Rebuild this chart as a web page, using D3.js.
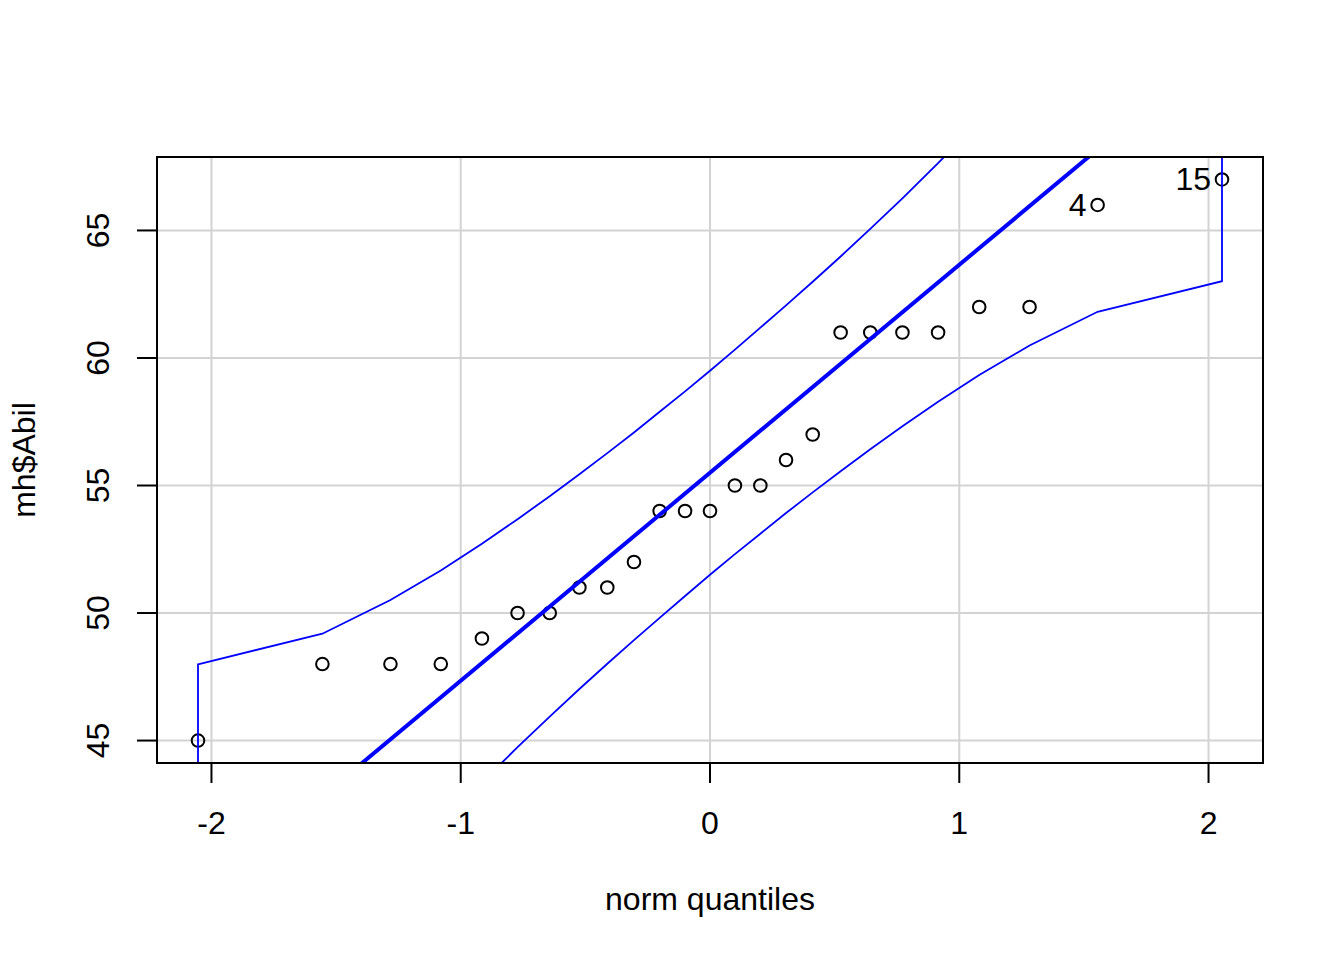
<!DOCTYPE html>
<html>
<head>
<meta charset="utf-8">
<script src="https://cdn.jsdelivr.net/npm/d3@7"></script>
<style>
  body { margin: 0; background: #fff; }
  text { font-family: "Liberation Sans", Arial, sans-serif; }
</style>
</head>
<body>
<div id="chart"></div>
<script>
// sorted sample values and their normal quantiles
var quantiles = [-2.054, -1.555, -1.282, -1.080, -0.915, -0.772, -0.643, -0.524, -0.412, -0.305, -0.202, -0.100, 0,
                 0.100, 0.202, 0.305, 0.412, 0.524, 0.643, 0.772, 0.915, 1.080, 1.282, 1.555, 2.054];
var values = [45, 48, 48, 48, 49, 50, 50, 51, 51, 52, 54, 54, 54, 55, 55, 56, 57, 61, 61, 61, 61, 62, 62, 66, 67];
// confidence envelope
var upper = [47.99, 49.19, 50.51, 51.67, 52.72, 53.68, 54.58, 55.44, 56.27, 57.08, 57.89, 58.69, 59.50,
             60.33, 61.19, 62.06, 62.99, 63.98, 65.06, 66.26, 67.64, 69.29, 71.41, 74.55, 81.49];
var lower = [29.51, 36.45, 39.59, 41.71, 43.36, 44.74, 45.94, 47.02, 48.01, 48.94, 49.81, 50.67, 51.50,
             52.31, 53.11, 53.92, 54.73, 55.56, 56.42, 57.32, 58.28, 59.33, 60.49, 61.81, 63.01];
var lineIntercept = 55.5;
var lineSlope = 8.154;
var labels = [{ i: 23, text: "4" }, { i: 24, text: "15" }];
var xTicks = [-2, -1, 0, 1, 2];
var yTicks = [45, 50, 55, 60, 65];

var width = 1344;
var height = 960;
var pLeft = 157, pRight = 1263, pTop = 157, pBottom = 763;

var svg = d3.select('#chart')
            .append('svg')
            .attr('width', width)
            .attr('height', height);

var x = d3.scaleLinear().domain([-2.2185, 2.2185]).range([pLeft, pRight]);
var y = d3.scaleLinear().domain([44.12, 67.88]).range([pBottom, pTop]);

svg.append("clipPath").attr("id", "plotclip")
   .append("rect")
   .attr("x", pLeft).attr("y", pTop)
   .attr("width", pRight - pLeft).attr("height", pBottom - pTop);

// grid
svg.selectAll(".vgrid").data(xTicks).enter().append("line")
   .attr("x1", function(d){ return x(d); }).attr("x2", function(d){ return x(d); })
   .attr("y1", pTop).attr("y2", pBottom)
   .attr("stroke", "#d3d3d3").attr("stroke-width", 2);
svg.selectAll(".hgrid").data(yTicks).enter().append("line")
   .attr("y1", function(d){ return y(d); }).attr("y2", function(d){ return y(d); })
   .attr("x1", pLeft).attr("x2", pRight)
   .attr("stroke", "#d3d3d3").attr("stroke-width", 2);

// points
var pts = quantiles.map(function(q, i){ return [q, values[i]]; });
svg.selectAll(".pt").data(pts).enter().append("circle")
   .attr("cx", function(d){ return x(d[0]); })
   .attr("cy", function(d){ return y(d[1]); })
   .attr("r", 6.3)
   .attr("fill", "none")
   .attr("stroke", "black")
   .attr("stroke-width", 2);

var plot = svg.append("g").attr("clip-path", "url(#plotclip)");

// reference line
var xd = x.domain();
plot.append("line")
    .attr("x1", x(xd[0])).attr("y1", y(lineIntercept + lineSlope * xd[0]))
    .attr("x2", x(xd[1])).attr("y2", y(lineIntercept + lineSlope * xd[1]))
    .attr("stroke", "blue").attr("stroke-width", 4);

// envelope
var env = quantiles.map(function(q, i){ return [q, upper[i]]; })
          .concat(quantiles.map(function(q, i){ return [q, lower[i]]; }).reverse());
plot.append("path")
    .attr("d", d3.line().x(function(d){ return x(d[0]); }).y(function(d){ return y(d[1]); })(env) + "Z")
    .attr("fill", "none")
    .attr("stroke", "blue")
    .attr("stroke-width", 1.8);

// labels of extreme points
svg.selectAll(".lab").data(labels).enter().append("text")
   .attr("x", function(d){ return x(quantiles[d.i]) - 11; })
   .attr("y", function(d){ return y(values[d.i]) + 11; })
   .attr("text-anchor", "end")
   .attr("font-size", 32)
   .text(function(d){ return d.text; });

// box
svg.append("rect")
   .attr("x", pLeft).attr("y", pTop)
   .attr("width", pRight - pLeft).attr("height", pBottom - pTop)
   .attr("fill", "none").attr("stroke", "black").attr("stroke-width", 2);

// x axis
svg.selectAll(".xt").data(xTicks).enter().append("line")
   .attr("x1", function(d){ return x(d); }).attr("x2", function(d){ return x(d); })
   .attr("y1", pBottom).attr("y2", pBottom + 20)
   .attr("stroke", "black").attr("stroke-width", 2);
svg.selectAll(".xl").data(xTicks).enter().append("text")
   .attr("x", function(d){ return x(d); })
   .attr("y", 834)
   .attr("text-anchor", "middle")
   .attr("font-size", 32)
   .text(function(d){ return d < 0 ? "-" + Math.abs(d) : d; });

// y axis
svg.selectAll(".yt").data(yTicks).enter().append("line")
   .attr("y1", function(d){ return y(d); }).attr("y2", function(d){ return y(d); })
   .attr("x1", pLeft).attr("x2", pLeft - 20)
   .attr("stroke", "black").attr("stroke-width", 2);
svg.selectAll(".yl").data(yTicks).enter().append("text")
   .attr("transform", function(d){ return "translate(109," + y(d) + ") rotate(-90)"; })
   .attr("text-anchor", "middle")
   .attr("font-size", 32)
   .text(function(d){ return d; });

// titles
svg.append("text")
   .attr("x", (pLeft + pRight) / 2).attr("y", 910)
   .attr("text-anchor", "middle")
   .attr("font-size", 32)
   .text("norm quantiles");
svg.append("text")
   .attr("transform", "translate(35," + (pTop + pBottom) / 2 + ") rotate(-90)")
   .attr("text-anchor", "middle")
   .attr("font-size", 32)
   .text("mh$Abil");
</script>
</body>
</html>
